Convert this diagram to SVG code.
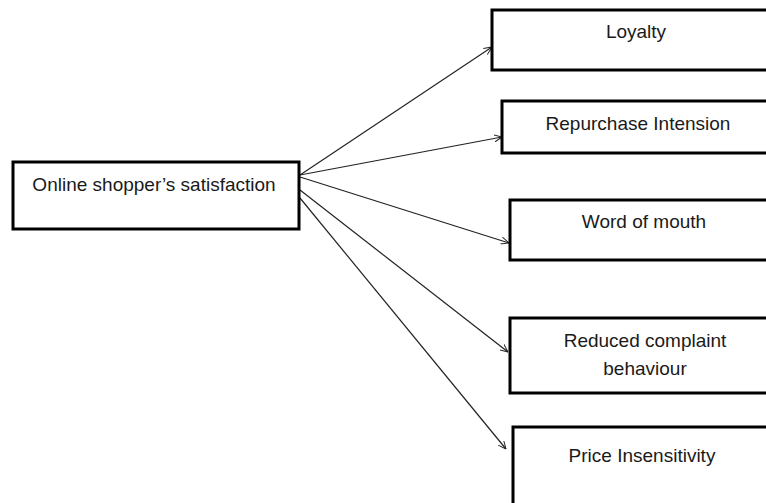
<svg xmlns="http://www.w3.org/2000/svg" width="766" height="503" viewBox="0 0 766 503">
<defs>
<marker id="arr" viewBox="0 0 10 10" refX="10" refY="5" markerWidth="8" markerHeight="8" markerUnits="userSpaceOnUse" orient="auto">
<path d="M0,0.5 L10,5 L0,9.5" fill="none" stroke="#222" stroke-width="1.2"/>
</marker>
</defs>
<style>
.box{fill:#fff;stroke:#000;stroke-width:3}
.lbl{font-family:"Liberation Sans",Arial,sans-serif;font-size:19px;fill:#1a1a1a;text-anchor:middle}
.edge{stroke:#222;stroke-width:1.2;fill:none;marker-end:url(#arr)}
</style>
<rect width="766" height="503" fill="#fff"/>
<g id="connectors">
<line class="edge" x1="300" y1="175" x2="492" y2="47"/>
<line class="edge" x1="300" y1="175" x2="502" y2="137"/>
<line class="edge" x1="300" y1="177" x2="509" y2="243"/>
<line class="edge" x1="300" y1="190" x2="508" y2="352"/>
<line class="edge" x1="300" y1="198" x2="506" y2="449"/>
</g>
<g id="n-satisfaction">
<rect class="box" x="13" y="162" width="286" height="67"/>
<text class="lbl" x="154" y="191">Online shopper’s satisfaction</text>
</g>
<g id="n-loyalty">
<rect class="box" x="492" y="10" width="280" height="60"/>
<text class="lbl" x="636" y="38">Loyalty</text>
</g>
<g id="n-repurchase">
<rect class="box" x="502" y="101" width="270" height="52"/>
<text class="lbl" x="638" y="130">Repurchase Intension</text>
</g>
<g id="n-wom">
<rect class="box" x="510" y="200" width="262" height="60"/>
<text class="lbl" x="644" y="228">Word of mouth</text>
</g>
<g id="n-complaint">
<rect class="box" x="510" y="318" width="262" height="75"/>
<text class="lbl" x="645" y="347">Reduced complaint</text>
<text class="lbl" x="645" y="375">behaviour</text>
</g>
<g id="n-price">
<rect class="box" x="513" y="427" width="259" height="90"/>
<text class="lbl" x="642" y="462">Price Insensitivity</text>
</g>
</svg>
